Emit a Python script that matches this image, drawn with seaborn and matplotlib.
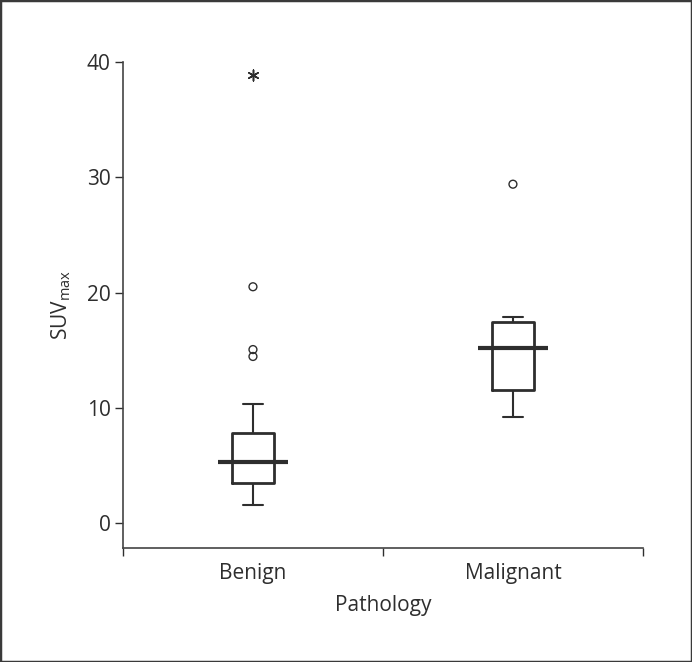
import numpy as np
import pandas as pd
import seaborn as sns
import matplotlib.pyplot as plt
from matplotlib.patches import Rectangle

# box summaries
groups = ["Benign", "Malignant"]
whisker_low = [1.55, 9.2]
q1 = [3.45, 11.55]
median = [5.25, 15.15]
q3 = [7.85, 17.45]
whisker_high = [10.35, 17.85]

# outliers (circles) and extreme value (asterisk)
outlier_group = ["Benign", "Benign", "Benign", "Malignant"]
outlier_value = [14.45, 15.05, 20.5, 29.4]
extreme_group = ["Benign"]
extreme_value = [38.9]

ink = "#2e2e2e"

sns.set_style("white")
plt.rcParams["font.family"] = ["Open Sans", "DejaVu Sans"]
plt.rcParams["text.color"] = ink
plt.rcParams["axes.labelcolor"] = ink
plt.rcParams["xtick.color"] = ink
plt.rcParams["ytick.color"] = ink

# five numbers per group -> boxplot with whiskers at min / max
box_df = pd.DataFrame({
    "Pathology": np.repeat(groups, 5),
    "SUV": np.column_stack([whisker_low, q1, median, q3, whisker_high]).ravel(),
})

fig = plt.figure(figsize=(6.92, 6.62), dpi=100)
ax = fig.add_axes([0.1777, 0.1722, 0.7514, 0.7341])

sns.boxplot(data=box_df, x="Pathology", y="SUV", order=groups, whis=(0, 100),
            width=0.16, fill=False, color=ink, linecolor=ink, linewidth=2,
            capwidths=0.077, medianprops={"linewidth": 0},
            whiskerprops={"linewidth": 1.5}, capprops={"linewidth": 1.5},
            ax=ax)

pos = [groups.index(g) for g in groups]
ax.hlines(median, [p - 0.135 for p in pos], [p + 0.135 for p in pos],
          color=ink, linewidth=3, zorder=5)

sns.scatterplot(x=[groups.index(g) for g in outlier_group], y=outlier_value,
                marker="o", s=32, facecolor="none", edgecolor=ink,
                linewidth=1.0, ax=ax, zorder=6)
sns.scatterplot(x=[groups.index(g) for g in extreme_group], y=extreme_value,
                marker=(6, 2, 0), s=60, color=ink, linewidth=1.1,
                ax=ax, zorder=6)

ax.set_xlim(-0.5, 1.5)
ax.set_ylim(-2.17, 40)
ax.set_yticks([0, 10, 20, 30, 40])
ax.set_xticks([-0.5, 0.5, 1.5])
ax.set_xticklabels([])
ax.set_xticks([0, 1], minor=True)
ax.set_xticklabels(groups, minor=True)
ax.tick_params(axis="x", which="major", length=6, width=1, direction="out",
               bottom=True)
ax.tick_params(axis="x", which="minor", length=0, pad=11, labelsize=15,
               bottom=True)
ax.tick_params(axis="y", length=6, width=1, direction="out", pad=3,
               labelsize=15, left=True)

for s in ["top", "right"]:
    ax.spines[s].set_visible(False)
for s in ["left", "bottom"]:
    ax.spines[s].set_color("#444444")
    ax.spines[s].set_linewidth(1.2)

ax.set_xlabel("Pathology", fontsize=15, labelpad=8)
ax.set_ylabel(r"SUV$_{\mathregular{max}}$", fontsize=15, labelpad=10)

fig.patches.append(Rectangle((0, 0), 1, 1, transform=fig.transFigure,
                             fill=False, edgecolor="#3a3a3a", linewidth=2.5))

fig.savefig("out.png", dpi=100)
